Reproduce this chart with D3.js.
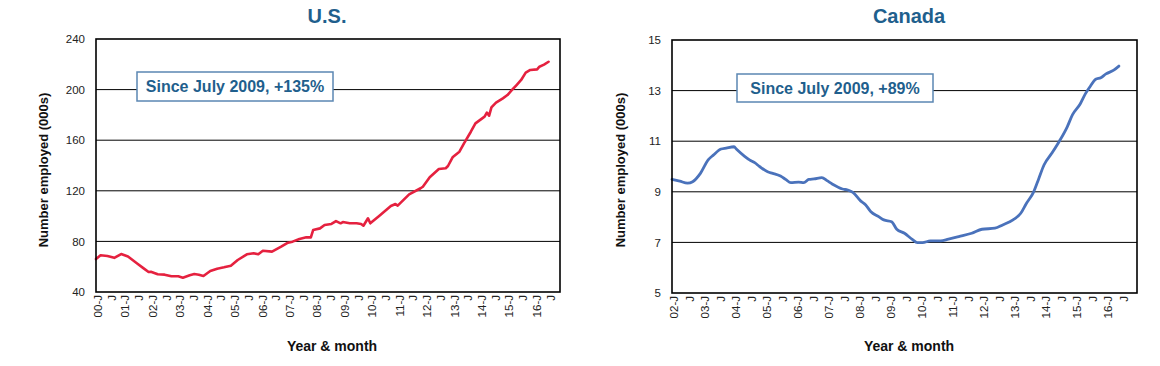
<!DOCTYPE html>
<html>
<head>
<meta charset="utf-8">
<script src="https://cdn.jsdelivr.net/npm/d3@7"></script>
<style>
  html, body { margin: 0; padding: 0; background: #fff; }
  svg { display: block; font-family: "Liberation Sans", Arial, sans-serif; }
</style>
</head>
<body>
<script>
// ---------- DATA ----------
const usDates = ["2000-01","2000-03","2000-06","2000-09","2000-12","2001-03","2001-07","2001-10","2001-12",
  "2002-01","2002-04","2002-07","2002-10","2003-01","2003-03","2003-06","2003-08","2003-10","2003-12",
  "2004-03","2004-06","2004-09","2004-12","2005-03","2005-07","2005-10","2005-12","2006-02","2006-06",
  "2006-10","2007-01","2007-03","2007-06","2007-09","2007-11","2007-12","2008-03","2008-05","2008-08",
  "2008-10","2008-12","2009-01","2009-04","2009-07","2009-09","2009-10","2009-12","2010-01","2010-05",
  "2010-10","2010-12","2011-01","2011-06","2011-11","2011-12","2012-03","2012-07","2012-10","2012-11",
  "2013-01","2013-04","2013-06","2013-09","2013-11","2014-03","2014-04","2014-05","2014-06","2014-08",
  "2014-11","2015-01","2015-03","2015-05","2015-07","2015-09","2015-11","2016-02","2016-03","2016-05","2016-07"];
const usValues = [66,69,68.5,67,70,68,62.5,58.5,55.8,
  56,54,53.7,52.4,52.4,51.3,53.2,54.2,53.7,52.6,
  56.6,58.4,59.5,60.8,65.3,69.8,70.6,69.8,72.6,71.9,
  75.8,79,79.8,81.9,83.2,83.2,89,90.3,93,93.8,
  96,94.3,95.3,94.3,94.3,93.8,92.4,98.3,94.3,100.3,
  108,109.6,108.3,117.2,122,123.2,130.7,137.2,137.8,139.6,
  146.5,150.9,157.5,166.7,173.3,178.6,181.8,179.4,186,189.7,
  193.1,195.7,199.7,203.6,207.6,213.4,215.5,216,218.1,219.7,222];

const caDates = ["2002-01","2002-04","2002-07","2002-09","2002-12","2003-03","2003-05","2003-08","2003-10",
  "2004-01","2004-02","2004-05","2004-07","2004-09","2004-11","2005-02","2005-04","2005-07","2005-09",
  "2005-11","2006-02","2006-04","2006-06","2006-08","2006-11","2007-01","2007-03","2007-07","2007-09",
  "2007-11","2008-02","2008-04","2008-06","2008-09","2008-11","2009-02","2009-04","2009-07","2009-10",
  "2009-12","2010-02","2010-05","2010-09","2010-12","2011-04","2011-09","2012-01","2012-06","2012-09",
  "2013-01","2013-04","2013-06","2013-09","2013-11","2014-01","2014-04","2014-07","2014-10","2014-12",
  "2015-03","2015-05","2015-07","2015-09","2015-11","2016-01","2016-04","2016-06"];
const caValues = [9.49,9.42,9.34,9.40,9.73,10.26,10.45,10.69,10.73,
  10.78,10.68,10.41,10.26,10.15,9.99,9.79,9.73,9.62,9.49,
  9.36,9.38,9.36,9.49,9.51,9.56,9.44,9.31,9.11,9.07,
  8.98,8.64,8.48,8.21,8.02,7.89,7.82,7.52,7.36,7.12,
  6.99,6.99,7.06,7.06,7.13,7.23,7.36,7.52,7.56,7.69,
  7.89,8.15,8.51,9.00,9.53,10.06,10.52,11.01,11.57,12.04,
  12.47,12.87,13.18,13.45,13.51,13.66,13.81,13.97];

const usXTickLabels = ["00-J","J","01-J","J","02-J","J","03-J","J","04-J","J","05-J","J","06-J","J",
  "07-J","J","08-J","J","09-J","J","10-J","J","11-J","J","12-J","J","13-J","J","14-J","J","15-J","J","16-J","J"];
const caXTickLabels = ["02-J","J","03-J","J","04-J","J","05-J","J","06-J","J","07-J","J","08-J","J",
  "09-J","J","10-J","J","11-J","J","12-J","J","13-J","J","14-J","J","15-J","J","16-J","J"];
const usYTicks = [40,80,120,160,200,240];
const caYTicks = [5,7,9,11,13,15];

const titles = ["U.S.", "Canada"];
const notes = ["Since July 2009, +135%", "Since July 2009, +89%"];
const yAxisTitle = "Number employed (000s)";
const xAxisTitle = "Year & month";

// ---------- DRAW ----------
const W = 1160, H = 366;
const svg = d3.select("body").append("svg").attr("width", W).attr("height", H);
const titleColor = "#1f5f8d";

function monthIndex(s, startYear) {
  const [yy, mm] = s.split("-").map(Number);
  return (yy - startYear) * 12 + (mm - 1);
}

function drawPanel(o) {
  const g = svg.append("g");
  const x = d3.scaleLinear().domain([0, o.xMax]).range([o.left, o.right]);
  const y = d3.scaleLinear().domain([o.yTicks[0], o.yTicks[o.yTicks.length - 1]]).range([o.bottom, o.top]);

  // gridlines
  g.selectAll(".grid").data(o.yTicks.slice(1, -1)).join("line")
    .attr("x1", o.left).attr("x2", o.right)
    .attr("y1", d => y(d)).attr("y2", d => y(d))
    .attr("stroke", "#000").attr("stroke-width", 1);

  // y axis labels
  const ya = g.append("g").attr("transform", `translate(${o.left},0)`)
    .call(d3.axisLeft(y).tickValues(o.yTicks).tickSize(0).tickPadding(11).tickFormat(d3.format("d")));
  ya.select(".domain").remove();
  ya.selectAll("text").attr("font-size", 11.5).attr("fill", "#222")
    .style("font-family", "'Liberation Sans', Arial, sans-serif");

  // x labels (every 6 months)
  g.selectAll(".xl").data(o.xLabels).join("text")
    .attr("transform", (d, i) => `translate(${x(i * 6) + 2},${o.bottom + 3}) rotate(-90)`)
    .attr("text-anchor", "end").attr("dy", "0.35em")
    .attr("font-size", 11.5).attr("fill", "#222")
    .text(d => d);

  // line
  const pts = o.dates.map((d, i) => [monthIndex(d, o.startYear), o.values[i]]);
  const line = d3.line().x(d => x(d[0])).y(d => y(d[1])).curve(o.curve);
  g.append("path").datum(pts).attr("d", line)
    .attr("fill", "none").attr("stroke", o.color).attr("stroke-width", o.lw)
    .attr("stroke-linejoin", "round").attr("stroke-linecap", "round");

  // border
  g.append("rect").attr("x", o.left).attr("y", o.top)
    .attr("width", o.right - o.left).attr("height", o.bottom - o.top)
    .attr("fill", "none").attr("stroke", "#000").attr("stroke-width", 1.6);

  // title
  g.append("text").attr("x", o.titleX).attr("y", 23).attr("text-anchor", "middle")
    .attr("font-size", 20).attr("font-weight", "bold").attr("fill", titleColor).text(o.title);

  // axis titles
  g.append("text").attr("transform", `translate(${o.yTitleX},170) rotate(-90)`)
    .attr("text-anchor", "middle").attr("dy", "0.35em")
    .attr("font-size", 13).attr("font-weight", "bold").attr("fill", "#111").text(yAxisTitle);
  g.append("text").attr("x", o.xTitleX).attr("y", 351).attr("text-anchor", "middle")
    .attr("font-size", 14).attr("font-weight", "bold").attr("fill", "#111").text(xAxisTitle);

  // annotation box
  const b = o.box;
  g.append("rect").attr("x", b.x).attr("y", b.y).attr("width", b.w).attr("height", b.h)
    .attr("fill", "#fff").attr("stroke", "#5b87b3").attr("stroke-width", 1.5);
  g.append("text").attr("x", b.x + b.w / 2).attr("y", b.y + b.h / 2).attr("dy", "0.36em")
    .attr("text-anchor", "middle").attr("font-size", 16).attr("font-weight", "bold")
    .attr("fill", titleColor).text(o.note);
}

drawPanel({
  title: titles[0], titleX: 327, note: notes[0],
  left: 96, right: 560, top: 39, bottom: 292, xMax: 203,
  yTicks: usYTicks, xLabels: usXTickLabels, dates: usDates, values: usValues, startYear: 2000,
  color: "#e5213f", lw: 2.6, curve: d3.curveLinear,
  yTitleX: 43, xTitleX: 332,
  box: {x: 137, y: 72, w: 196, h: 29}
});
drawPanel({
  title: titles[1], titleX: 909, note: notes[1],
  left: 672, right: 1137, top: 40, bottom: 293, xMax: 180,
  yTicks: caYTicks, xLabels: caXTickLabels, dates: caDates, values: caValues, startYear: 2002,
  color: "#4a72bb", lw: 2.8, curve: d3.curveMonotoneX,
  yTitleX: 620, xTitleX: 909,
  box: {x: 737, y: 74, w: 196, h: 28}
});
</script>
</body>
</html>
